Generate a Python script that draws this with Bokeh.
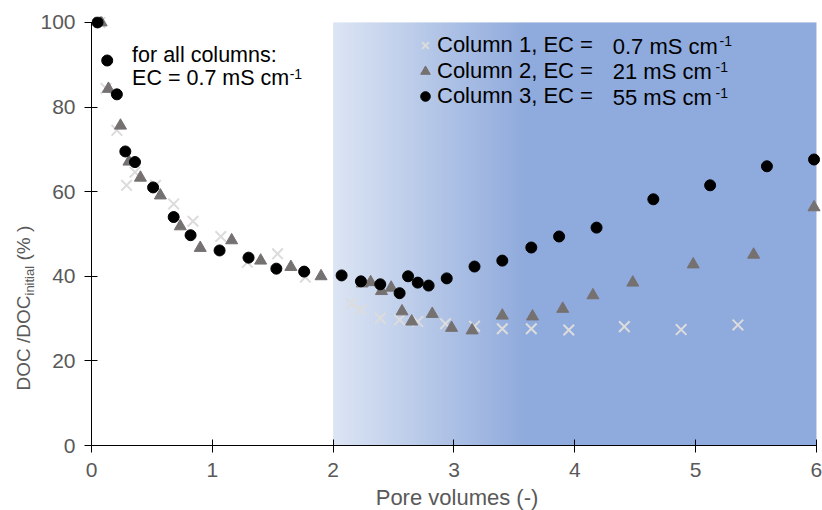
import numpy as np
from bokeh.plotting import figure
from bokeh.layouts import row
from bokeh.models import Range1d, FixedTicker, Label, Legend, LegendItem
from bokeh.core.properties import value
from bokeh.embed import file_html
from bokeh.resources import INLINE

# ---------------- data ----------------
# Column 1, EC = 0.7 mS/cm (crosses)
c1_x = [0.07, 0.12, 0.21, 0.29, 0.36, 0.53, 0.68, 0.84, 1.07, 1.29, 1.54, 1.77,
        2.15, 2.23, 2.39, 2.55, 2.70, 2.93, 3.17, 3.40, 3.64, 3.95, 4.41, 4.88, 5.35]
c1_y = [100, 84.4, 74.5, 61.5, 64.6, 61.5, 57.1, 53.0, 49.4, 43.3, 45.3, 39.8,
        33.6, 32.1, 30.1, 29.7, 29.3, 28.8, 28.2, 27.6, 27.6, 27.3, 28.1, 27.4, 28.5]

# Column 2, EC = 21 mS/cm (triangles)
c2_x = [0.08, 0.14, 0.24, 0.31, 0.405, 0.57, 0.735, 0.90, 1.16, 1.40, 1.65, 1.90,
        2.24, 2.31, 2.40, 2.48, 2.57, 2.65, 2.82, 2.98, 3.15, 3.40, 3.65, 3.90,
        4.15, 4.48, 4.98, 5.48, 5.98]
c2_y = [100, 84.3, 75.6, 67.1, 63.3, 59.1, 51.8, 46.7, 48.5, 43.7, 42.2, 40.0,
        38.3, 38.6, 36.5, 37.3, 31.7, 29.3, 31.1, 27.8, 27.2, 30.7, 30.5, 32.3,
        35.5, 38.5, 42.8, 45.1, 56.3]

# Column 3, EC = 55 mS/cm (circles)
c3_x = [0.05, 0.13, 0.21, 0.28, 0.36, 0.51, 0.68, 0.82, 1.06, 1.30, 1.53, 1.76,
        2.07, 2.23, 2.39, 2.55, 2.62, 2.70, 2.79, 2.94, 3.17, 3.40, 3.64, 3.87,
        4.18, 4.65, 5.12, 5.59, 5.98]
c3_y = [100, 91, 83, 69.5, 67, 61, 54, 49.7, 46.1, 44.4, 41.8, 41.1,
        40.2, 38.8, 38.1, 36, 40, 38.5, 37.8, 39.5, 42.3, 43.7, 46.8, 49.4,
        51.5, 58.2, 61.5, 66, 67.6]

series_labels = ["Column 1, EC =", "Column 2, EC =", "Column 3, EC ="]
series_values = ["0.7 mS cm", "21 mS cm", "55 mS cm"]
x_ticks = [0, 1, 2, 3, 4, 5, 6]
y_ticks = [0, 20, 40, 60, 80, 100]
y_title_parts = ["DOC /DOC", "initial", "(% )"]

FONT = "Liberation Sans"
TICK_COLOR = "#595959"
H = 510
TOP, BOTTOM = 16, 65          # borders shared by both panels
FH = H - TOP - BOTTOM         # frame height (429)
TW = 36                       # width of the strip holding the y-axis title

# ---------------- y-axis title strip ----------------
# its y data units equal canvas pixels measured upward from the bottom
tfig = figure(title=None, frame_width=TW, frame_height=FH,
              x_range=Range1d(0, TW), y_range=Range1d(BOTTOM, H - TOP),
              output_backend="svg", toolbar_location=None,
              x_axis_type=None, y_axis_type=None,
              min_border=0, min_border_left=0, min_border_right=0,
              min_border_top=TOP, min_border_bottom=BOTTOM)
tfig.outline_line_color = None
tfig.xgrid.visible = False
tfig.ygrid.visible = False
tfig.border_fill_color = "white"
tfig.background_fill_color = "white"
tfig.text(x=[23.4, 28.5, 23.4], y=[H - 390, H - 295, H - 260], text=y_title_parts,
          angle=np.pi / 2, text_font=value(FONT), text_color=TICK_COLOR,
          text_font_size=["19px", "13px", "19px"],
          text_baseline="middle", text_align="left")

# ---------------- main chart ----------------
p = figure(title=None, frame_width=731, frame_height=FH,
           x_range=Range1d(0, 6.05), y_range=Range1d(0, 101.4),
           output_backend="svg", toolbar_location=None,
           min_border_left=91 - TW, min_border_right=0,
           min_border_top=TOP, min_border_bottom=BOTTOM)
p.outline_line_color = None
p.xgrid.visible = False
p.ygrid.visible = False
p.background_fill_color = "white"
p.border_fill_color = "white"

# shaded gradient (region x = 2 ... 6)
n = 400
xs = np.linspace(2, 6, n)
c0 = np.array([220, 229, 244], dtype=float)
c1 = np.array([143, 170, 220], dtype=float)
t = np.clip((xs - 2) / 1.6, 0, 1)
cols = c0[None, :] + (c1 - c0)[None, :] * t[:, None]
img = np.zeros((1, n), dtype=np.uint32)
view = img.view(dtype=np.uint8).reshape((1, n, 4))
view[0, :, 0] = cols[:, 0].astype(np.uint8)
view[0, :, 1] = cols[:, 1].astype(np.uint8)
view[0, :, 2] = cols[:, 2].astype(np.uint8)
view[0, :, 3] = 255
p.image_rgba(image=[img], x=2, y=0, dw=4, dh=100)

r1 = p.scatter(c1_x, c1_y, marker="x", size=15, line_color="#dcdcdc", line_width=2)
r2 = p.scatter(c2_x, c2_y, marker="triangle", size=12, fill_color="#767171",
               line_color="#767171")
r3 = p.scatter(c3_x, c3_y, marker="circle", size=11, fill_color="black",
               line_color="black")

for ax in (p.xaxis[0], p.yaxis[0]):
    ax.axis_line_color = "black"
    ax.major_tick_line_color = "black"
    ax.minor_tick_line_color = None
    ax.major_tick_in = 6
    ax.major_tick_out = 7
    ax.major_label_text_font = FONT
    ax.major_label_text_font_size = "21px"
    ax.major_label_text_color = TICK_COLOR
    ax.axis_label_text_font = FONT
    ax.axis_label_text_font_size = "22px"
    ax.axis_label_text_color = TICK_COLOR
    ax.axis_label_text_font_style = "normal"

p.xaxis.ticker = FixedTicker(ticks=x_ticks)
p.yaxis.ticker = FixedTicker(ticks=y_ticks)
p.xaxis.bounds = (0, 6)
p.yaxis.bounds = (0, 100)
p.xaxis.major_label_standoff = 10
p.yaxis.major_label_standoff = 9
p.xaxis.axis_label = "Pore volumes (-)"
p.xaxis.axis_label_standoff = 5
p.yaxis.axis_label = None

# legend (one legend per row for exact placement)
rends = [r1, r2, r3]
loc_y = [387, 361, 336]
for lab, rr, ly in zip(series_labels, rends, loc_y):
    lg = Legend(items=[LegendItem(label=lab, renderers=[rr])],
                location=(322, ly), orientation="vertical",
                label_text_font=FONT, label_text_font_size="22px",
                label_text_color="black", label_standoff=0,
                glyph_width=24, glyph_height=24, label_height=24, spacing=0,
                padding=0, margin=0, border_line_alpha=0,
                background_fill_alpha=0)
    p.add_layout(lg)

txt = dict(text_font=FONT, text_color="black", text_baseline="middle")
val_y = [94.40, 88.40, 82.30]
for v, yy in zip(series_values, val_y):
    p.add_layout(Label(x=4.314, y=yy, text=v, text_font_size="22px", **txt))
sup_x = [5.198, 5.165, 5.165]
sup_y = [95.72, 89.58, 83.43]
for sx, yy in zip(sup_x, sup_y):
    p.add_layout(Label(x=sx, y=yy, text="-1", text_font_size="14px", **txt))

# annotation
p.add_layout(Label(x=0.336, y=92.41, text="for all columns:", text_font_size="21.5px", **txt))
p.add_layout(Label(x=0.336, y=86.91, text="EC = 0.7 mS cm", text_font_size="21.5px", **txt))
p.add_layout(Label(x=1.64, y=87.92, text="-1", text_font_size="14px", **txt))

layout = row(tfig, p)
open("out.html", "w").write(file_html(layout, INLINE))
